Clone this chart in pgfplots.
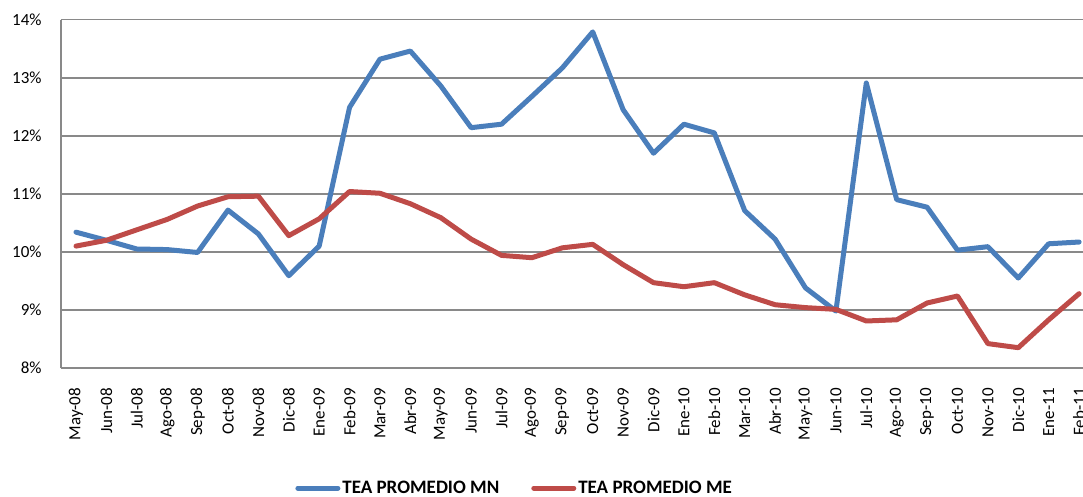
\documentclass[border=0pt]{standalone}
\usepackage{pgfplots}
\pgfplotsset{compat=1.18}
\usepackage{pgfplotstable}
\usepackage{fontspec}
\setmainfont{Carlito}
\definecolor{mnblue}{HTML}{4A7EBB}
\definecolor{mered}{HTML}{BE4B48}
\definecolor{gridgray}{HTML}{898989}
\pgfplotstableread{
x mn me
0 10.34 10.10
1 10.20 10.20
2 10.05 10.38
3 10.04 10.56
4 9.99 10.79
5 10.72 10.95
6 10.31 10.96
7 9.59 10.28
8 10.10 10.57
9 12.49 11.04
10 13.32 11.01
11 13.46 10.83
12 12.86 10.59
13 12.14 10.22
14 12.20 9.94
15 12.68 9.90
16 13.17 10.07
17 13.79 10.13
18 12.45 9.78
19 11.70 9.47
20 12.20 9.40
21 12.05 9.47
22 10.71 9.26
23 10.22 9.09
24 9.38 9.04
25 8.98 9.01
26 12.91 8.81
27 10.90 8.83
28 10.77 9.12
29 10.03 9.24
30 10.09 8.42
31 9.55 8.35
32 10.14 8.83
33 10.17 9.28
}\datatab
\begin{document}
\begin{tikzpicture}
\begin{axis}[
  at={(60.8bp,129bp)}, anchor=south west,
  scale only axis, width=1022.2bp, height=348.3bp,
  xmin=-0.5, xmax=33.13, ymin=8, ymax=14,
  xtick={0,...,33},
  xticklabels={May-08,Jun-08,Jul-08,Ago-08,Sep-08,Oct-08,Nov-08,Dic-08,Ene-09,Feb-09,Mar-09,Abr-09,May-09,Jun-09,Jul-09,Ago-09,Sep-09,Oct-09,Nov-09,Dic-09,Ene-10,Feb-10,Mar-10,Abr-10,May-10,Jun-10,Jul-10,Ago-10,Sep-10,Oct-10,Nov-10,Dic-10,Ene-11,Feb-11},
  ytick={8,...,14},
  yticklabel={\pgfmathprintnumber{\tick}\%},
  /pgf/number format/assume math mode=true,
  tick style={draw=none},
  ymajorgrids,
  grid style={gridgray, line width=1.6bp},
  axis line style={draw=none},
  every x tick label/.append style={yshift=-20bp},
  xticklabel style={rotate=90, anchor=east, inner sep=0pt, font=\fontsize{17bp}{20bp}\selectfont},
  yticklabel style={anchor=east, inner sep=0pt, xshift=-19bp, font=\fontsize{17bp}{20bp}\selectfont},
  clip=false,
  legend columns=2,
  legend style={at={(0.444,-0.345)}, anchor=center, draw=none, fill=none,
    font=\bfseries\fontsize{19bp}{22bp}\selectfont,
    /tikz/every even column/.append style={column sep=30bp}},
  legend image code/.code={\draw[#1, line cap=round] (0bp,0bp) -- (40bp,0bp);},
]
\draw[gridgray, line width=1.6bp] (axis cs:-0.5,8) -- (axis cs:-0.5,14);
\addplot[mnblue, line width=5bp, line join=round, line cap=round] table[x=x,y=mn]{\datatab};
\addlegendentry{TEA PROMEDIO MN}
\addplot[mered, line width=5bp, line join=round, line cap=round] table[x=x,y=me]{\datatab};
\addlegendentry{TEA PROMEDIO ME}
\end{axis}
\pgfresetboundingbox
\path (0,0) rectangle (1083bp,497bp);
\end{tikzpicture}
\end{document}
